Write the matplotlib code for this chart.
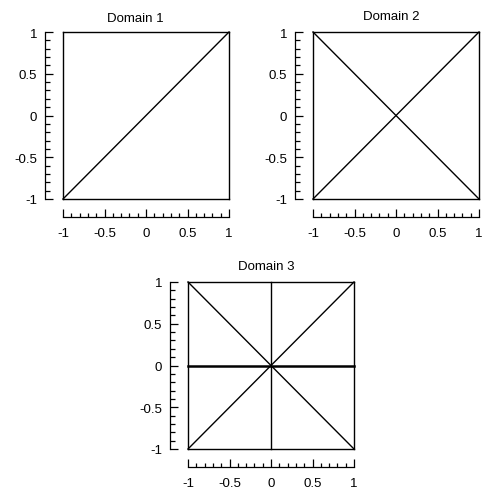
import matplotlib.pyplot as plt
from matplotlib.ticker import MultipleLocator, FuncFormatter

plt.rcParams['font.family'] = ['Liberation Sans', 'DejaVu Sans']

# domain edges: each segment is (x0, x1, y0, y1)
box = [(-1, 1, -1, -1), (1, 1, -1, 1), (1, -1, 1, 1), (-1, -1, 1, -1)]
domain1 = box + [(-1, 1, -1, 1)]
domain2 = box + [(-1, 1, -1, 1), (-1, 1, 1, -1)]
domain3 = box + [(-1, 1, -1, 1), (-1, 1, 1, -1), (0, 0, -1, 1)]
domain3_axis = [(-1, 1, 0, 0)]

titles = ['Domain 1', 'Domain 2', 'Domain 3']
domains = [domain1, domain2, domain3]

fig = plt.figure(figsize=(4.82, 4.89), dpi=100)
W, H = 482, 489
px = 72 / 100  # points per pixel
# box positions in pixels (left, top, width, height)
boxes = [(63, 33, 166, 167), (313, 33, 166, 167), (188, 283, 166, 167)]
title_pads = [8, 9.4, 9.4]
title_x = [0.434, 0.47, 0.47]

fmt = FuncFormatter(lambda v, p: ('%g' % v).replace('\u2212', '-'))

axes = []
for (l, t, w, h), title, segs, tp, tx in zip(boxes, titles, domains, title_pads, title_x):
    ax = fig.add_axes([l / W, 1 - (t + h) / H, w / W, h / H])
    for x0, x1, y0, y1 in segs:
        ax.plot([x0, x1], [y0, y1], color='black', lw=1.0, clip_on=False)
    ax.set_xlim(-1, 1)
    ax.set_ylim(-1, 1)
    ax.spines['top'].set_visible(False)
    ax.spines['right'].set_visible(False)
    ax.spines['left'].set_position(('outward', 18 * px))
    ax.spines['bottom'].set_position(('outward', 18 * px))
    ax.spines['left'].set_linewidth(0.9)
    ax.spines['bottom'].set_linewidth(0.9)
    ax.xaxis.set_major_locator(MultipleLocator(0.5))
    ax.yaxis.set_major_locator(MultipleLocator(0.5))
    ax.xaxis.set_minor_locator(MultipleLocator(0.1))
    ax.yaxis.set_minor_locator(MultipleLocator(0.1))
    ax.xaxis.set_major_formatter(fmt)
    ax.yaxis.set_major_formatter(fmt)
    ax.tick_params(which='major', direction='in', length=8 * px, width=0.9,
                   labelsize=9.5)
    ax.tick_params(which='minor', direction='in', length=4.5 * px, width=0.9)
    ax.tick_params(axis='x', which='major', pad=10 * px)
    ax.tick_params(axis='y', which='major', pad=8 * px)
    ax.set_title(title, fontsize=9.5, pad=tp, x=tx)
    ax.set_facecolor('none')
    axes.append(ax)

for x0, x1, y0, y1 in domain3_axis:
    axes[2].plot([x0, x1], [y0, y1], color='black', lw=1.8, clip_on=False)

fig.savefig('out.png', dpi=100)
